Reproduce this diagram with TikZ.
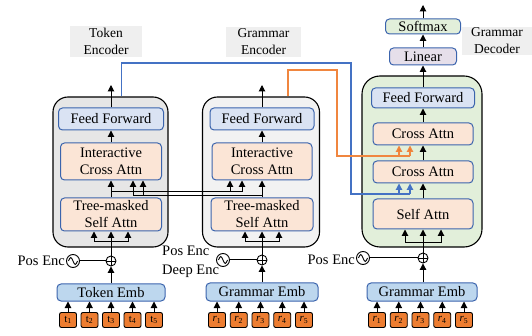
\documentclass[tikz,border=0pt]{standalone}
\usepackage{fontspec}
\setmainfont{Liberation Serif}
\usetikzlibrary{arrows.meta,calc}
\definecolor{bdr}{HTML}{3B64AD}
\definecolor{ffc}{HTML}{DAE3F3}
\definecolor{attc}{HTML}{FBE5D6}
\definecolor{embc}{HTML}{BDD7EE}
\definecolor{tokc}{HTML}{ED7D31}
\definecolor{lblc}{HTML}{EFEFEF}
\definecolor{tencc}{HTML}{E6E6E6}
\definecolor{gencc}{HTML}{F2F2F2}
\definecolor{decc}{HTML}{E2EFDA}
\definecolor{linc}{HTML}{E6DFEA}
\definecolor{softc}{HTML}{E2EFDA}
\definecolor{bluel}{HTML}{4472C4}
\definecolor{orgl}{HTML}{F0863F}
\definecolor{orgt}{HTML}{ED7D31}
\tikzset{
 base/.style={font=\fontsize{14.5}{17}\selectfont, align=center, inner sep=0pt},
 outer/.style={draw=black, line width=1.1pt, rounded corners=15pt, inner sep=0pt},
 blk/.style={base, draw=bdr, line width=1pt, rounded corners=4pt},
 ffb/.style={blk, fill=ffc},
 attb/.style={blk, fill=attc},
 embb/.style={blk, fill=embc},
 tokb/.style={draw=black, line width=0.9pt, fill=tokc, rounded corners=2pt, minimum width=17pt, minimum height=15pt, inner sep=0pt, font=\fontsize{11}{11}\selectfont},
 lbl/.style={base, fill=lblc, font=\fontsize{13.5}{17}\selectfont},
 arr/.style={-{Triangle[length=6.5pt,width=6.5pt]}, line width=1pt},
 plainl/.style={line width=1pt},
 plusc/.style={circle, draw=black, line width=0.9pt, minimum size=10pt, inner sep=0pt},
 sinec/.style={circle, draw=black, line width=0.9pt, minimum size=13pt, inner sep=0pt},
 bline/.style={draw=bluel, line width=1.15pt},
 oline/.style={draw=orgl, line width=1.15pt},
 barr/.style={draw=bluel, line width=1.15pt, -{Triangle[length=6.5pt,width=6.5pt]}},
 oarr/.style={draw=orgl, line width=1.15pt, -{Triangle[length=6.5pt,width=6.5pt,fill=orgt]}},
}
\begin{document}
\begin{tikzpicture}[x=1pt,y=-1pt]
\useasboundingbox (0,0) rectangle (532,336);

% ---------------- labels
\node[lbl, minimum width=72pt, minimum height=31pt] (tlab) at (106,41.5) {Token\\Encoder};
\node[lbl, minimum width=75pt, minimum height=30pt] (glab) at (263.5,42) {Grammar\\Encoder};
\node[lbl, minimum width=70pt, minimum height=28pt] (dlab) at (497,41) {Grammar\\Decoder};

% ---------------- token encoder
\node[outer, fill=tencc, minimum width=115pt, minimum height=150pt] (tenc) at (110.5,172) {};
\node[ffb, minimum width=105pt, minimum height=22pt] (tff) at (111,119) {Feed Forward};
\node[attb, minimum width=101pt, minimum height=37pt] (tca) at (111,161.5) {Interactive\\Cross Attn};
\node[attb, minimum width=101pt, minimum height=33pt] (tsa) at (111,214.5) {Tree-masked\\Self Attn};
\node[plusc] (tplus) at (111,261) {};
\node[sinec] (tsin) at (73,261) {};
\node[base, anchor=east] (tpos) at (65,261) {Pos Enc};
\node[embb, minimum width=108pt, minimum height=17pt] (temb) at (111,292.5) {Token Emb};
\foreach \i in {1,...,5} \node[tokb] (t\i) at ({111+(\i-3)*21.5},320) {t\textsubscript{\i}};

% ---------------- grammar encoder
\node[outer, fill=gencc, minimum width=117pt, minimum height=150pt] (genc) at (261,172) {};
\node[ffb, minimum width=104pt, minimum height=22pt] (gff) at (262,119) {Feed Forward};
\node[attb, minimum width=100pt, minimum height=37pt] (gca) at (262,161.5) {Interactive\\Cross Attn};
\node[attb, minimum width=102pt, minimum height=33pt] (gsa) at (262,214.5) {Tree-masked\\Self Attn};
\node[plusc] (gplus) at (262,260) {};
\node[sinec] (gsin) at (223,260) {};
\node[base, anchor=west, align=left, font=\fontsize{14.5}{18.5}\selectfont] (gpos) at (162,262) {Pos Enc\\Deep Enc};
\node[embb, minimum width=112pt, minimum height=18pt] (gemb) at (262,292) {Grammar Emb};
\foreach \i in {1,...,5} \node[tokb] (g\i) at ({260.5+(\i-3)*21.75},320) {\textit{r}\textsubscript{\i}};

% ---------------- decoder
\node[outer, rounded corners=18pt, fill=decc, minimum width=120pt, minimum height=171pt] (dec) at (422,161.5) {};
\node[ffb, minimum width=103pt, minimum height=20pt] (dff) at (423,98) {Feed Forward};
\node[attb, minimum width=100pt, minimum height=22pt] (dca2) at (423,134) {Cross Attn};
\node[attb, minimum width=100pt, minimum height=22pt] (dca1) at (423,172) {Cross Attn};
\node[attb, minimum width=100pt, minimum height=30pt] (dsa) at (423,214) {Self Attn};
\node[blk, fill=linc, minimum width=67pt, minimum height=17pt] (lin) at (423,56.5) {Linear};
\node[blk, fill=softc, minimum width=75pt, minimum height=15pt] (soft) at (423,26.5) {Softmax};
\node[plusc] (dplus) at (423,258) {};
\node[sinec] (dsin) at (363,258) {};
\node[base, anchor=east] (dpos) at (355,260) {Pos Enc};
\node[embb, minimum width=110pt, minimum height=18pt] (demb) at (422,292) {Grammar Emb};
\foreach \i in {1,...,5} \node[tokb] (d\i) at ({420.5+(\i-3)*21.75},320) {\textit{r}\textsubscript{\i}};

% ---------------- plus / sine symbols
\foreach \p in {tplus,gplus,dplus}
  \draw[line width=0.9pt] (\p.north) -- (\p.south) (\p.west) -- (\p.east);
\foreach \s in {tsin,gsin,dsin}
  \draw[line width=0.9pt] ($(\s.center)+(-4.5,0)$) sin ++(2.25,-3.5) cos ++(2.25,3.5) sin ++(2.25,3.5) cos ++(2.25,-3.5);
\draw[plainl] (tsin.east) -- (tplus.west);
\draw[plainl] (gsin.east) -- (gplus.west);
\draw[plainl] (dsin.east) -- (dplus.west);

% ---------------- bottom arrows
\foreach \i in {1,...,5} {
  \draw[arr] (t\i.north) -- (t\i |- temb.south);
  \draw[arr] (g\i.north) -- (g\i |- gemb.south);
  \draw[arr] (d\i.north) -- (d\i |- demb.south);
}
\draw[arr] (tplus |- temb.north) -- (tplus.south);
\draw[arr] (gplus |- gemb.north) -- (gplus.south);
\draw[arr] (dplus |- demb.north) -- (dplus.south);

\coordinate (tbl) at (94,242); \coordinate (tbr) at (128,242);
\coordinate (gbl) at (245,242); \coordinate (gbr) at (279,242);
\coordinate (dbl) at (405,243); \coordinate (dbr) at (441,243);
\draw[arr] (tplus.north) -- (tsa.south);
\draw[plainl] (tbl) -- (tbr);
\draw[arr] (tbl) -- (tbl |- tsa.south);
\draw[arr] (tbr) -- (tbr |- tsa.south);
\draw[arr] (gplus.north) -- (gsa.south);
\draw[plainl] (gbl) -- (gbr);
\draw[arr] (gbl) -- (gbl |- gsa.south);
\draw[arr] (gbr) -- (gbr |- gsa.south);
\draw[arr] (dplus.north) -- (dsa.south);
\draw[plainl] (dbl) -- (dbr);
\draw[arr] (dbl) -- (dbl |- dsa.south);
\draw[arr] (dbr) -- (dbr |- dsa.south);

% ---------------- encoder internals
\draw[arr] (tsa.north) -- (tca.south);
\draw[arr] (tca.north) -- (tff.south);
\draw[arr] (gsa.north) -- (gca.south);
\draw[arr] (gca.north) -- (gff.south);
\coordinate (tout) at (111,85); \coordinate (gout) at (262,85); \coordinate (dout) at (423,5);
\draw[arr] (tff.north) -- (tout);
\draw[arr] (gff.north) -- (gout);

% cross links between encoders
\coordinate (lA0) at (111,192); \coordinate (lA1) at (230,192); \coordinate (lA2) at (242,192);
\coordinate (lB0) at (262,196); \coordinate (lB1) at (143,196); \coordinate (lB2) at (133,196);
\draw[plainl] (lA0) -- (lA2);
\draw[plainl] (lB0) -- (lB2);
\draw[arr] (lA1) -- (lA1 |- gca.south);
\draw[arr] (lA2) -- (lA2 |- gca.south);
\draw[arr] (lB1) -- (lB1 |- tca.south);
\draw[arr] (lB2) -- (lB2 |- tca.south);

% ---------------- decoder internals
\draw[arr] (dsa.north) -- (dca1.south);
\draw[arr] (dca1.north) -- (dca2.south);
\draw[arr] (dca2.north) -- (dff.south);
\draw[arr] (dff.north) -- (lin.south);
\draw[arr] (lin.north) -- (soft.south);
\draw[arr] (soft.north) -- (dout);

% ---------------- encoder -> decoder links
\coordinate (bA) at (399,194); \coordinate (bB) at (410,194);
\coordinate (oA) at (399,156); \coordinate (oB) at (410,156);
\draw[bline] ([xshift=11pt]tenc.north) |- (351,63) |- (bB);
\draw[barr] (bA) -- (bA |- dca1.south);
\draw[barr] (bB) -- (bB |- dca1.south);
\draw[oline] ([xshift=27pt]genc.north) |- (337,70) |- (oB);
\draw[oarr] (oA) -- (oA |- dca2.south);
\draw[oarr] (oB) -- (oB |- dca2.south);
\end{tikzpicture}
\end{document}
